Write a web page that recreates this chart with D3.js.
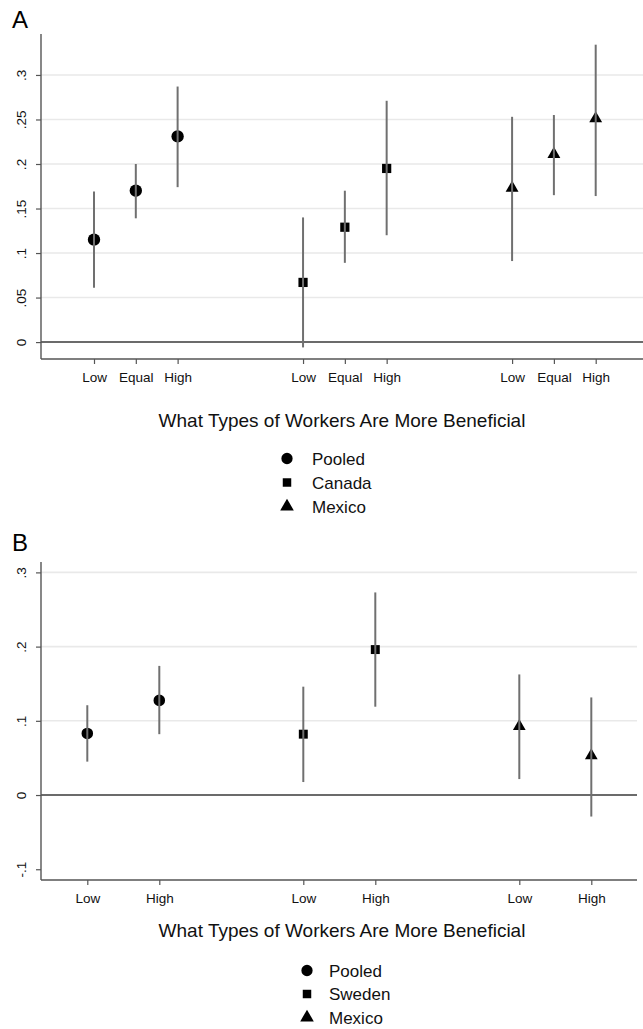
<!DOCTYPE html>
<html>
<head>
<meta charset="utf-8">
<script src="https://cdn.jsdelivr.net/npm/d3@7/dist/d3.min.js"></script>
<style>
  html, body { margin: 0; padding: 0; background: #fff; }
  svg { display: block; font-family: "Liberation Sans", Arial, sans-serif; }
</style>
</head>
<body>
<svg id="chart" width="643" height="1029"></svg>
<script>
// Panel A: effect of worker-type framing, by sample
const groupsA = ["Pooled", "Canada", "Mexico"];
const levelsA = ["Low", "Equal", "High"];
const estA = [0.115, 0.170, 0.231, 0.067, 0.129, 0.195, 0.173, 0.211, 0.251];
const loA  = [0.061, 0.139, 0.174, -0.006, 0.089, 0.120, 0.091, 0.165, 0.164];
const hiA  = [0.169, 0.200, 0.287, 0.140, 0.170, 0.271, 0.253, 0.255, 0.334];
const yTicksA = [0, 0.05, 0.1, 0.15, 0.2, 0.25, 0.3];
const yLabelsA = ["0", ".05", ".1", ".15", ".2", ".25", ".3"];

// Panel B
const groupsB = ["Pooled", "Sweden", "Mexico"];
const levelsB = ["Low", "High"];
const estB = [0.083, 0.1275, 0.082, 0.196, 0.0925, 0.053];
const loB  = [0.045, 0.082, 0.0175, 0.119, 0.0215, -0.029];
const hiB  = [0.121, 0.174, 0.146, 0.273, 0.1625, 0.1315];
const yTicksB = [-0.1, 0, 0.1, 0.2, 0.3];
const yLabelsB = ["-.1", "0", ".1", ".2", ".3"];

const xTitle = "What Types of Workers Are More Beneficial";
const shapes = [d3.symbolCircle, d3.symbolSquare, d3.symbolTriangle];

const svg = d3.select("#chart");
const ciColor = "#707070";

function drawPanel(cfg) {
  const g = svg.append("g");
  const nL = cfg.levels.length;
  const rows = [];
  cfg.groups.forEach((grp, gi) => {
    cfg.levels.forEach((lv, li) => {
      const i = gi * nL + li;
      rows.push({ group: gi, level: lv, pos: gi * (nL + cfg.gap) + li + 1,
                  est: cfg.est[i], lo: cfg.lo[i], hi: cfg.hi[i] });
    });
  });
  const maxPos = d3.max(rows, d => d.pos);

  const y = d3.scaleLinear().domain(cfg.yDomain).range([cfg.bottom, cfg.top]);
  const x = d3.scaleLinear().domain([1, maxPos]).range(cfg.xRange);

  // panel letter
  g.append("text").attr("x", 12).attr("y", cfg.letterY)
    .attr("font-size", 24).attr("fill", "#000").text(cfg.letter);

  // gridlines
  g.selectAll("line.grid").data(cfg.yTicks.filter(v => v > 0)).join("line")
    .attr("class", "grid")
    .attr("x1", cfg.left).attr("x2", cfg.right)
    .attr("y1", d => y(d)).attr("y2", d => y(d))
    .attr("stroke", "#e9e9e9").attr("stroke-width", 1.6);

  // zero reference line
  g.append("line")
    .attr("x1", cfg.left).attr("x2", cfg.right)
    .attr("y1", y(0)).attr("y2", y(0))
    .attr("stroke", "#3a3a3a").attr("stroke-width", 1.5);

  // y axis
  const yAxis = d3.axisLeft(y).tickValues(cfg.yTicks)
    .tickFormat((d, i) => cfg.yLabels[i]).tickSize(5).tickSizeOuter(0);
  const ya = g.append("g").attr("transform", `translate(${cfg.left},0)`).call(yAxis);
  ya.select(".domain").remove();
  ya.selectAll(".tick line").attr("stroke", "#555").attr("stroke-width", 1.2);
  ya.selectAll(".tick text")
    .attr("font-size", 13.5).attr("fill", "#111")
    .attr("x", null).attr("dy", null)
    .attr("text-anchor", "middle")
    .attr("transform", "translate(-15,0) rotate(-90)");
  g.append("line")
    .attr("x1", cfg.left).attr("x2", cfg.left)
    .attr("y1", cfg.top).attr("y2", cfg.bottom)
    .attr("stroke", "#555").attr("stroke-width", 1.4);

  // x axis
  const xAxis = d3.axisBottom(x).tickValues(rows.map(d => d.pos))
    .tickFormat((d, i) => rows[i].level).tickSize(5).tickSizeOuter(0);
  const xa = g.append("g").attr("transform", `translate(0,${cfg.bottom})`).call(xAxis);
  xa.select(".domain").remove();
  xa.selectAll(".tick line").attr("stroke", "#555").attr("stroke-width", 1.2);
  xa.selectAll(".tick text").attr("font-size", 13.5).attr("fill", "#111")
    .attr("y", 19).attr("dy", "0.32em");
  g.append("line")
    .attr("x1", cfg.left).attr("x2", cfg.right)
    .attr("y1", cfg.bottom).attr("y2", cfg.bottom)
    .attr("stroke", "#555").attr("stroke-width", 1.4);

  // point estimates
  g.selectAll("path.pt").data(rows).join("path")
    .attr("class", "pt")
    .attr("transform", d => `translate(${x(d.pos)},${y(d.est)})`)
    .attr("d", d => d3.symbol(shapes[d.group], cfg.sizes[d.group])())
    .attr("fill", "#000");

  // confidence intervals
  g.selectAll("line.ci").data(rows).join("line")
    .attr("class", "ci")
    .attr("x1", d => x(d.pos)).attr("x2", d => x(d.pos))
    .attr("y1", d => y(d.lo)).attr("y2", d => y(d.hi))
    .attr("stroke", ciColor).attr("stroke-width", 2);

  // x title
  g.append("text").attr("x", 342).attr("y", cfg.titleY)
    .attr("text-anchor", "middle").attr("font-size", 19).attr("fill", "#111")
    .text(xTitle);

  // legend
  const lg = g.append("g");
  cfg.groups.forEach((grp, gi) => {
    const cy = cfg.legendY + gi * cfg.legendStep;
    lg.append("path")
      .attr("transform", `translate(${cfg.legendSymX},${cy})`)
      .attr("d", d3.symbol(shapes[gi], cfg.legendSizes[gi])())
      .attr("fill", "#000");
    lg.append("text").attr("x", cfg.legendTextX).attr("y", cy).attr("dy", "0.36em")
      .attr("font-size", 17).attr("fill", "#111").text(grp);
  });
}

drawPanel({
  letter: "A", letterY: 28,
  groups: groupsA, levels: levelsA, gap: 2,
  est: estA, lo: loA, hi: hiA,
  yTicks: yTicksA, yLabels: yLabelsA,
  yDomain: [-0.019, 0.346], top: 34, bottom: 359,
  left: 41, right: 643, xRange: [94, 595.7],
  sizes: [120, 85, 72],
  titleY: 427,
  legendY: 458.5, legendStep: 24, legendSymX: 287, legendTextX: 312,
  legendSizes: [100, 72, 80]
});

drawPanel({
  letter: "B", letterY: 551,
  groups: groupsB, levels: levelsB, gap: 1,
  est: estB, lo: loB, hi: hiB,
  yTicks: yTicksB, yLabels: yLabelsB,
  yDomain: [-0.1145, 0.314], top: 562, bottom: 880,
  left: 41, right: 637, xRange: [87.3, 591.3],
  sizes: [105, 80, 70],
  titleY: 937,
  legendY: 970.5, legendStep: 23.5, legendSymX: 307, legendTextX: 329,
  legendSizes: [100, 72, 80]
});
</script>
</body>
</html>
